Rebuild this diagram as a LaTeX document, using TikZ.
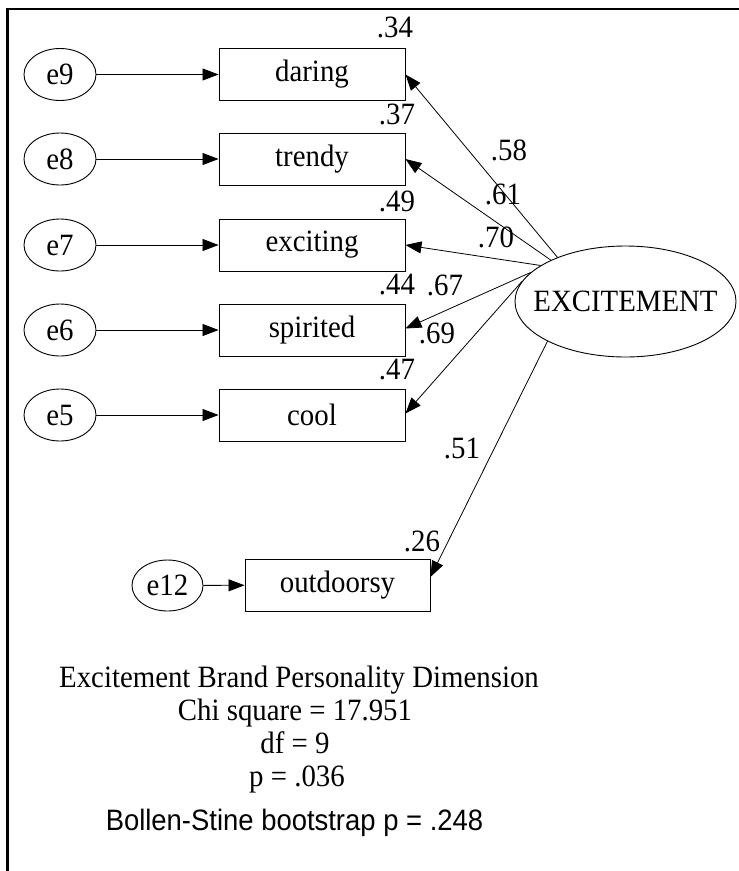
\documentclass[tikz,border=0pt]{standalone}
\usepackage{fontspec}
\setmainfont[FakeStretch=0.93]{Liberation Serif}
\newfontfamily\arialfont[FakeStretch=0.93]{Liberation Sans}
\usetikzlibrary{arrows.meta,shapes.geometric,calc}

\begin{document}
\begin{tikzpicture}[x=1pt,y=-1pt,
  every node/.style={font=\fontsize{31}{36}\selectfont, inner sep=0pt},
  indicator/.style={draw, line width=0.9pt, minimum width=186pt, minimum height=52pt},
  errterm/.style={draw, ellipse, line width=0.9pt, minimum width=72pt, minimum height=52pt},
  factor/.style={draw, ellipse, line width=0.9pt, minimum width=221pt, minimum height=111pt},
  load/.style={line width=0.8pt, -{Triangle[length=16pt,width=12pt]}},
  errpath/.style={line width=0.8pt, -{Triangle[length=16pt,width=12pt]}},
  fitline/.style={anchor=base},
]
\useasboundingbox (0,0) rectangle (739,871);
% partial frame
\draw[line width=2.2pt] (7.5,871) -- (7.5,9.3) -- (739,9.3);

% observed indicators
\node[indicator] (daring)   at (312,74.5) {daring};
\node[indicator] (trendy)   at (312,159)  {trendy};
\node[indicator] (exciting) at (312,245)  {exciting};
\node[indicator] (spirited) at (312,330)  {spirited};
\node[indicator] (cool)     at (312,415)  {cool};
\node[indicator, minimum width=185pt] (outd) at (337.5,585) {outdoorsy};

% error terms
\node[errterm] (e9) at (60,74.5) {e9};
\node[errterm] (e8) at (60,159)  {e8};
\node[errterm] (e7) at (60,245)  {e7};
\node[errterm] (e6) at (60,330)  {e6};
\node[errterm] (e5) at (60,415)  {e5};
\node[errterm, minimum width=71pt, minimum height=51pt] (e12) at (167.5,585.5) {e12};

% latent factor
\node[factor, label=center:EXCITEMENT] (exc) at (625.5,301.5) {};

% error paths
\draw[errpath] (e9) -- (daring);
\draw[errpath] (e8) -- (trendy);
\draw[errpath] (e7) -- (exciting);
\draw[errpath] (e6) -- (spirited);
\draw[errpath] (e5) -- (cool);
\draw[errpath] (e12) -- (outd);

% factor loadings
\draw[load] (exc.147.7) -- (daring.east);
\draw[load] (exc.151.6) -- (trendy.east);
\draw[load] (exc.157.6) -- (exciting.east);
\draw[load] (exc.163.6) -- ($(spirited.east)+(0,-1.5)$);
\draw[load] (exc.169.3) -- ($(cool.east)+(0,-1.5)$);
\draw[load] (exc.207.3) -- ($(outd.east)+(0,-8)$);

% squared multiple correlations
\node (r34) at (395,27)  {.34};
\node (r37) at (397,114) {.37};
\node (r49) at (397,201) {.49};
\node (r44) at (397,285) {.44};
\node (r47) at (397,370) {.47};
\node (r26) at (422,541) {.26};

% standardized weights
\node (w58) at (509,150) {.58};
\node (w61) at (503,194) {.61};
\node (w70) at (496,237) {.70};
\node (w67) at (445,285) {.67};
\node (w69) at (437,333) {.69};
\node (w51) at (462,448) {.51};

% fit summary
\node[fitline] (title) at (299,687) {Excitement Brand Personality Dimension};
\node[fitline] (chi)   at (295,720) {Chi square = 17.951};
\node[fitline] (df)    at (295,753) {df = 9};
\node[fitline] (pval)  at (297,786) {p = .036};
\node[fitline, font=\arialfont\fontsize{29.5}{34}\selectfont] (boot) at (294.5,830) {Bollen-Stine bootstrap p = .248};
\end{tikzpicture}
\end{document}
